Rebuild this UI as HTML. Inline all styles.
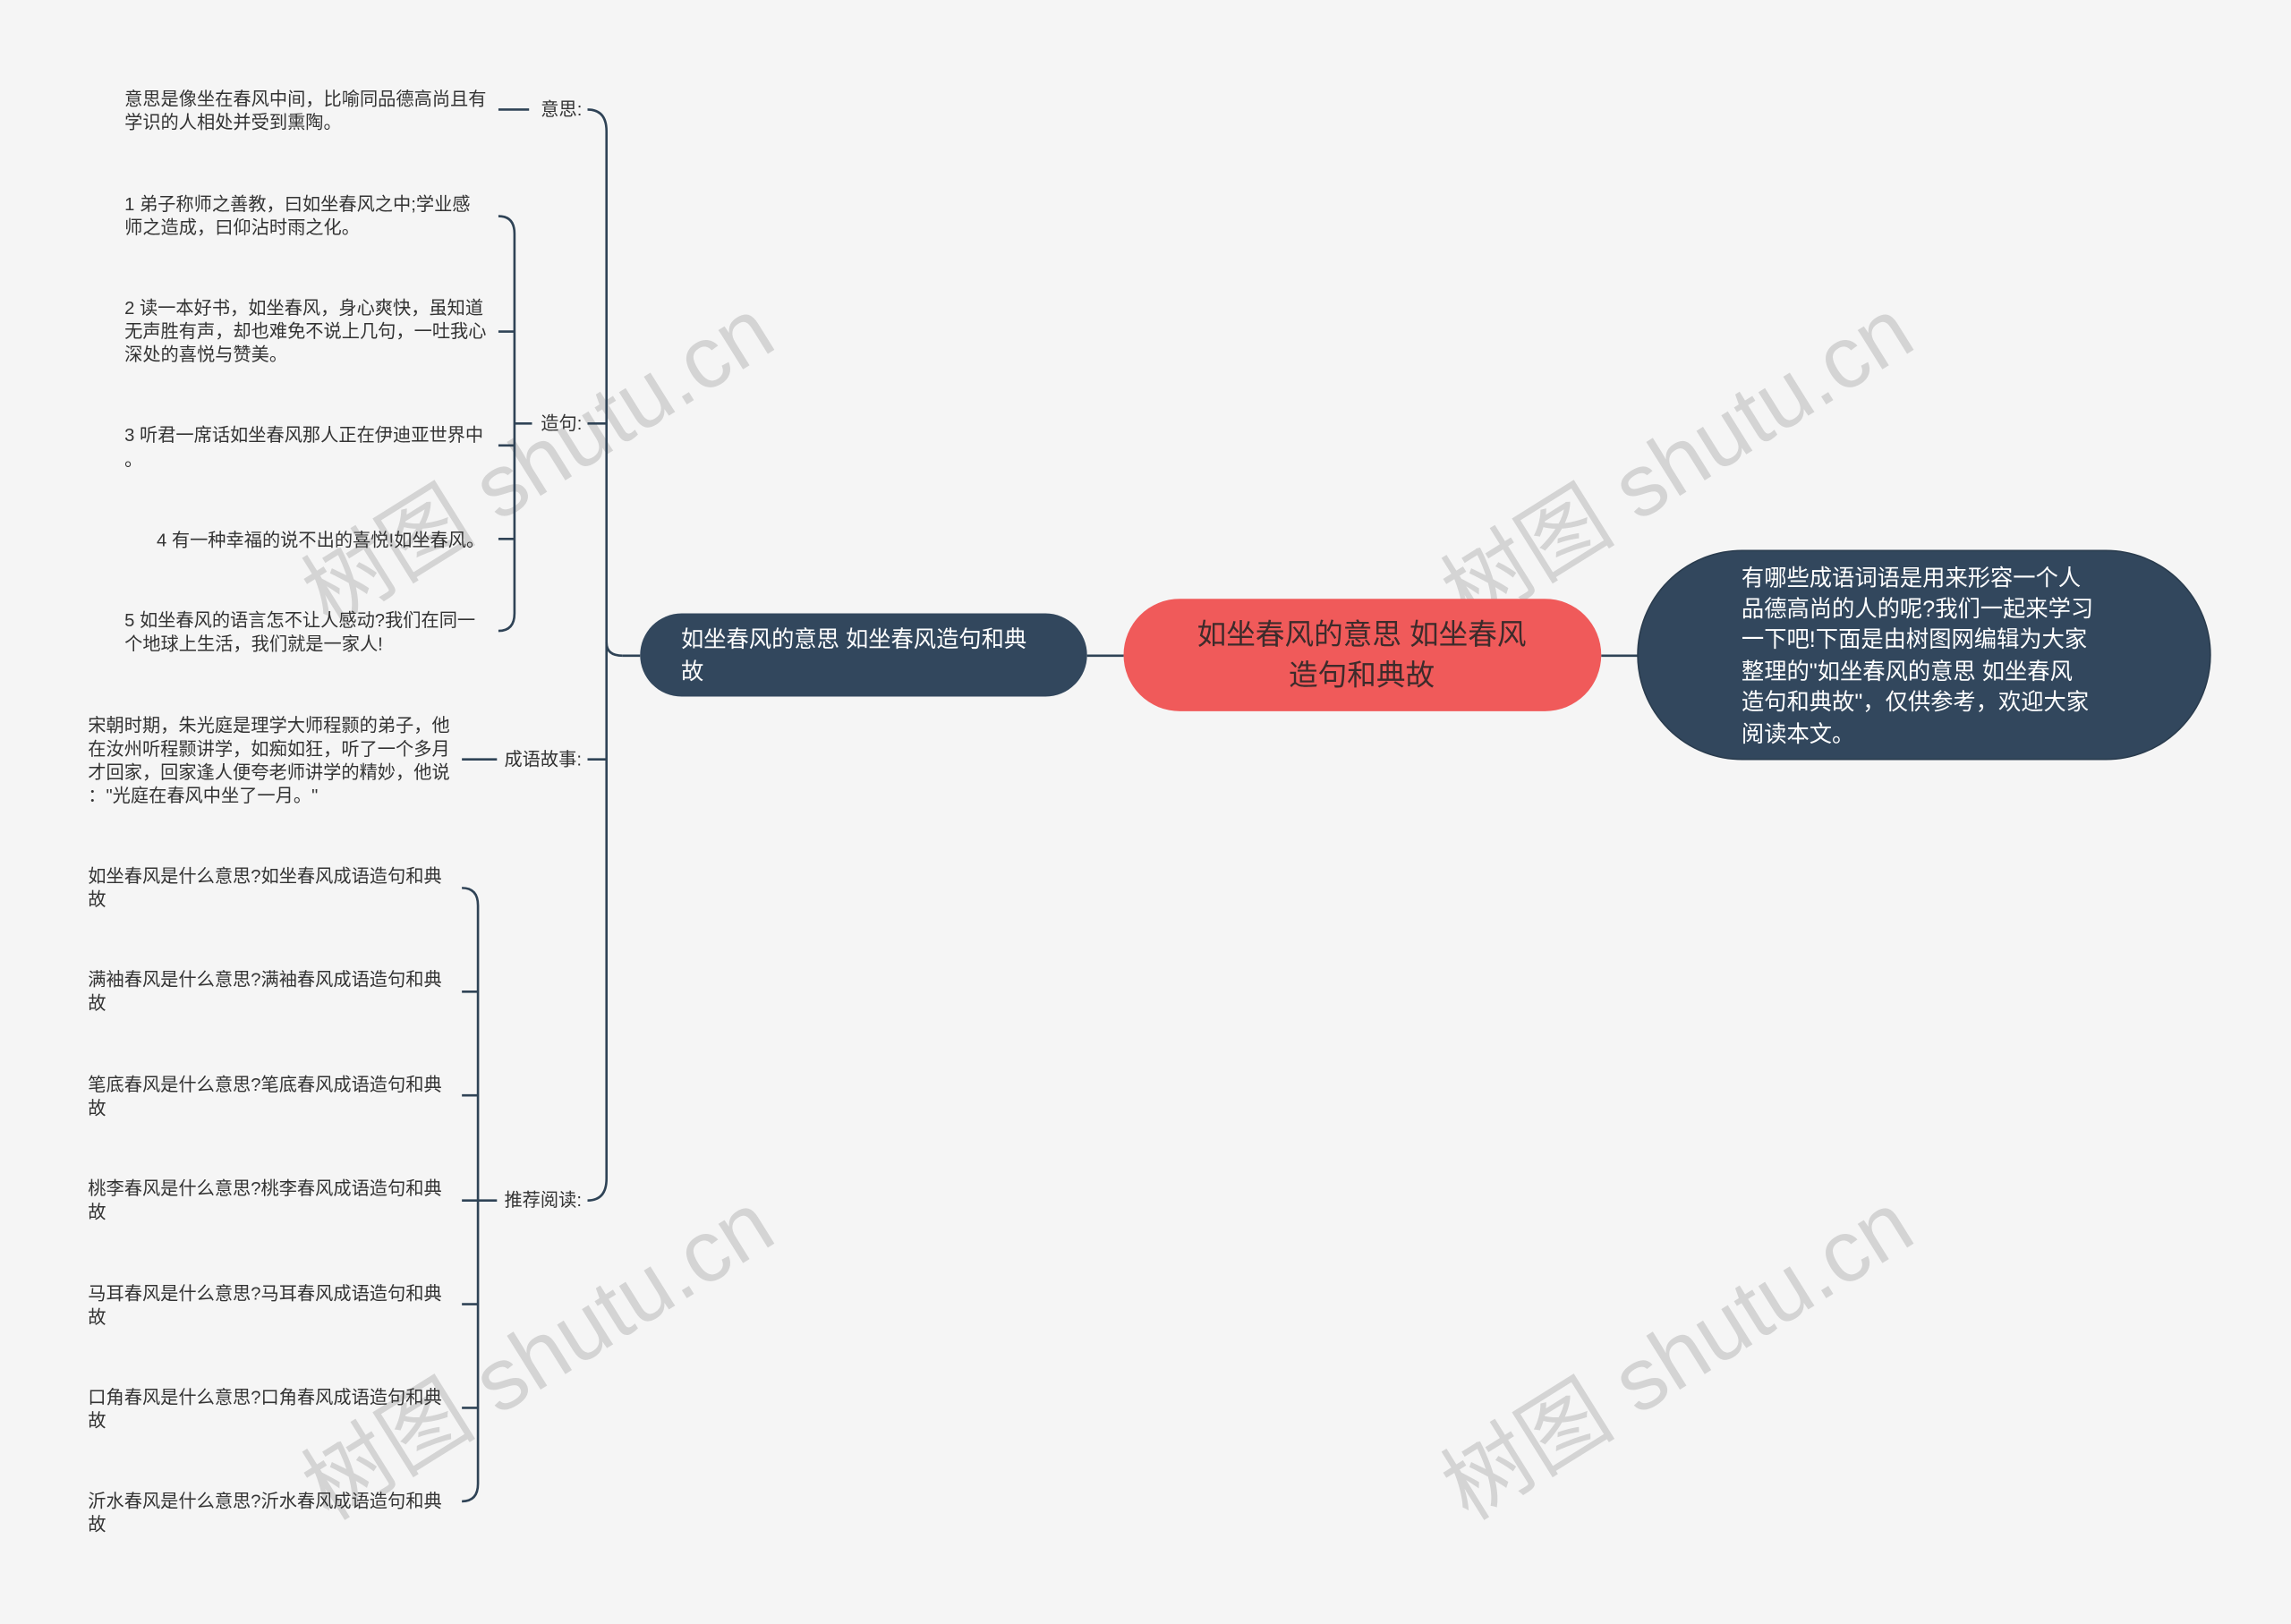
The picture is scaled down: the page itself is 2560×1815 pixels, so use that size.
<!DOCTYPE html>
<html><head><meta charset="utf-8">
<style>
html,body{margin:0;padding:0;background:#f5f5f5;}
svg{display:block;}
text{font-family:"Liberation Sans","Noto Sans CJK SC",sans-serif;}
</style></head>
<body>
<svg width="2560" height="1815" viewBox="0 0 1568 1112" xmlns="http://www.w3.org/2000/svg">
<rect width="1568" height="1112" fill="#f5f5f5"/>
<!-- watermarks -->
<g fill="#d4d4d4" font-size="60" style="font-family:'Liberation Serif','Noto Serif CJK SC',serif">
<text transform="translate(225,430) rotate(-32)">树图 shutu.cn</text>
<text transform="translate(1005,430) rotate(-32)">树图 shutu.cn</text>
<text transform="translate(225,1042) rotate(-32)">树图 shutu.cn</text>
<text transform="translate(1005,1042) rotate(-32)">树图 shutu.cn</text>
</g>
<g fill="none" stroke="#2f4356" stroke-width="1.6">
<line x1="744" y1="449" x2="769" y2="449"/>
<line x1="1096" y1="449" x2="1121" y2="449"/>
<line x1="426" y1="449" x2="438" y2="449"/>
<path d="M402,75 Q415,75 415,90 L415,807 Q415,822 402,822"/>
<path d="M426,449 Q415,449 415,440"/>
<line x1="402" y1="290" x2="415" y2="290"/>
<line x1="402" y1="520" x2="415" y2="520"/>
<line x1="341" y1="75" x2="362" y2="75"/>
<path d="M341,148 Q352,148 352,160 L352,420 Q352,432 341,432"/>
<line x1="341" y1="227" x2="352" y2="227"/>
<line x1="341" y1="305" x2="352" y2="305"/>
<line x1="341" y1="369" x2="352" y2="369"/>
<line x1="352" y1="290" x2="364" y2="290"/>
<line x1="316" y1="520" x2="340" y2="520"/>
<path d="M316,608 Q327,608 327,620 L327,1016 Q327,1028 316,1028"/>
<line x1="316" y1="679" x2="327" y2="679"/>
<line x1="316" y1="750" x2="327" y2="750"/>
<line x1="316" y1="822" x2="327" y2="822"/>
<line x1="316" y1="893" x2="327" y2="893"/>
<line x1="316" y1="964" x2="327" y2="964"/>
<line x1="327" y1="822" x2="340" y2="822"/>
</g>
<rect x="769" y="410" width="327" height="77" rx="38.5" fill="#f05a5a"/>
<text x="932" y="441" font-size="20" fill="#3d2b2b" text-anchor="middle" font-weight="400">如坐春风的意思 如坐春风</text>
<text x="932" y="469" font-size="20" fill="#3d2b2b" text-anchor="middle">造句和典故</text>
<rect x="1121" y="377" width="392" height="143" rx="71.5" fill="#32475d" stroke="#2a3c4e"/>
<g font-size="15.5" fill="#fff">
<text x="1192" y="401">有哪些成语词语是用来形容一个人</text>
<text x="1192" y="422">品德高尚的人的呢?我们一起来学习</text>
<text x="1192" y="443">一下吧!下面是由树图网编辑为大家</text>
<text x="1192" y="465">整理的"如坐春风的意思 如坐春风</text>
<text x="1192" y="486">造句和典故"，仅供参考，欢迎大家</text>
<text x="1192" y="508">阅读本文。</text>
</g>
<rect x="438" y="420" width="306" height="57" rx="28.5" fill="#32475d"/>
<text x="466" y="443" font-size="15.5" fill="#fff">如坐春风的意思 如坐春风造句和典</text>
<text x="466" y="465" font-size="15.5" fill="#fff">故</text>
<g font-size="12.4" fill="#333">
<text x="370" y="79">意思:</text>
<text x="370" y="294">造句:</text>
<text x="345" y="524">成语故事:</text>
<text x="345" y="826">推荐阅读:</text>
<text x="85" y="72">意思是像坐在春风中间，比喻同品德高尚且有</text>
<text x="85" y="88">学识的人相处并受到熏陶。</text>
<text x="85" y="144">1 弟子称师之善教，曰如坐春风之中;学业感</text>
<text x="85" y="160">师之造成，曰仰沾时雨之化。</text>
<text x="85" y="215">2 读一本好书，如坐春风，身心爽快，虽知道</text>
<text x="85" y="231">无声胜有声，却也难免不说上几句，一吐我心</text>
<text x="85" y="247">深处的喜悦与赞美。</text>
<text x="85" y="302">3 听君一席话如坐春风那人正在伊迪亚世界中</text>
<text x="85" y="319">。</text>
<text x="107" y="374">4 有一种幸福的说不出的喜悦!如坐春风。</text>
<text x="85" y="429">5 如坐春风的语言怎不让人感动?我们在同一</text>
<text x="85" y="445">个地球上生活，我们就是一家人!</text>
<text x="60" y="501">宋朝时期，朱光庭是理学大师程颢的弟子，他</text>
<text x="60" y="517">在汝州听程颢讲学，如痴如狂，听了一个多月</text>
<text x="60" y="533">才回家，回家逢人便夸老师讲学的精妙，他说</text>
<text x="60" y="549">："光庭在春风中坐了一月。"</text>
<text x="60" y="604">如坐春风是什么意思?如坐春风成语造句和典</text>
<text x="60" y="620">故</text>
<text x="60" y="675">满袖春风是什么意思?满袖春风成语造句和典</text>
<text x="60" y="691">故</text>
<text x="60" y="747">笔底春风是什么意思?笔底春风成语造句和典</text>
<text x="60" y="763">故</text>
<text x="60" y="818">桃李春风是什么意思?桃李春风成语造句和典</text>
<text x="60" y="834">故</text>
<text x="60" y="890">马耳春风是什么意思?马耳春风成语造句和典</text>
<text x="60" y="906">故</text>
<text x="60" y="961">口角春风是什么意思?口角春风成语造句和典</text>
<text x="60" y="977">故</text>
<text x="60" y="1032">沂水春风是什么意思?沂水春风成语造句和典</text>
<text x="60" y="1048">故</text>
</g>
</svg>
</body></html>
